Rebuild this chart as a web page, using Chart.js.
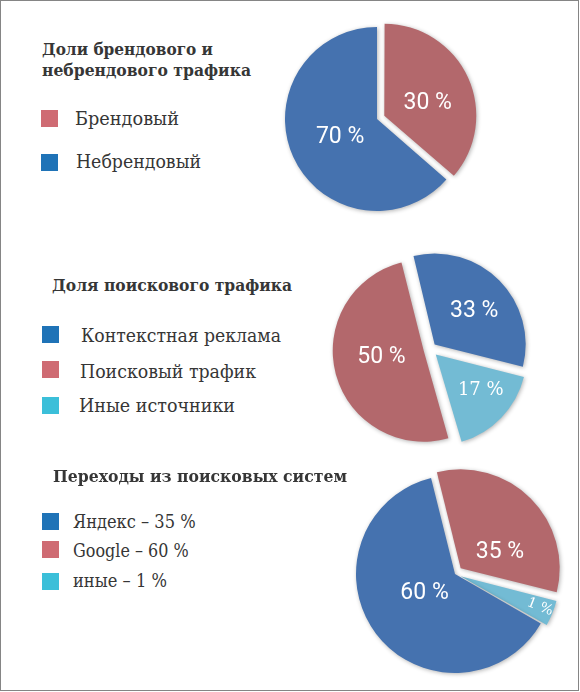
<!DOCTYPE html>
<html>
<head>
<meta charset="utf-8">
<script src="https://cdn.jsdelivr.net/npm/chart.js@4.4.1/dist/chart.umd.min.js"></script>
<style>
  html, body { margin:0; padding:0; width:580px; height:692px; overflow:hidden; background:#fff; }
  #frame { position:absolute; left:0; top:0; width:577px; height:689px; border:1px solid #858585; }
  .txt { position:absolute; white-space:nowrap; color:#363636; transform-origin:0 0; line-height:1.2; }
  .title { font-family:'Roboto Slab','DejaVu Serif',serif; font-weight:bold; font-size:17px; }
  .leg { font-family:'Roboto Slab','DejaVu Serif',serif; font-size:18px; }
  .bl { display:inline-block; width:0; height:0; vertical-align:baseline; }
  .sq { position:absolute; width:17px; height:17px; }
  canvas { position:absolute; }
</style>
</head>
<body>
<div id="frame"></div>
<canvas id="c1" width="220" height="220" style="left:267px;top:9px;width:220px;height:220px"></canvas>
<canvas id="c2" width="220" height="220" style="left:320px;top:239px;width:220px;height:220px"></canvas>
<canvas id="c3" width="240" height="240" style="left:335px;top:454px;width:240px;height:240px"></canvas>
<div id="texts"></div>
<script>
// ---------- data ----------
const chart1Title = ['Доли брендового и', 'небрендового трафика'];
const chart1Legend = ['Брендовый', 'Небрендовый'];
const chart1Shares = [36.4, 63.6];          // slice sizes as drawn
const chart1Labels = ['30 %', '70 %'];      // printed labels

const chart2Title = ['Доля поискового трафика'];
const chart2Legend = ['Контекстная реклама', 'Поисковый трафик', 'Иные источники'];
const chart2Shares = [32.7, 16.5, 50.8];
const chart2Labels = ['33 %', '17 %', '50 %'];

const chart3Title = ['Переходы из поисковых систем'];
const chart3Legend = ['Яндекс – 35 %', 'Google – 60 %', 'иные – 1 %'];
const chart3Shares = [32.8, 4.4, 62.8];
const chart3Labels = ['35 %', '1 %', '60 %'];

// ---------- styles ----------
const BLUE = '#4572AF', RED = '#B3686C', CYAN = '#73BBD4';
const LEG_BLUE = '#1F73B7', LEG_RED = '#CF6B73', LEG_CYAN = '#3BBFD9';

const textLayout = [
  {cls:'title', t:chart1Title[0], x:41.7, b:55, w:171},
  {cls:'title', t:chart1Title[1], x:41.7, b:76, w:209},
  {cls:'leg', t:chart1Legend[0], x:75, b:125, w:104},
  {cls:'leg', t:chart1Legend[1], x:76, b:168.3, w:125},
  {cls:'title', t:chart2Title[0], x:52.3, b:290.7, w:240},
  {cls:'leg', t:chart2Legend[0], x:80.7, b:341.7, w:200},
  {cls:'leg', t:chart2Legend[1], x:80, b:377.7, w:176},
  {cls:'leg', t:chart2Legend[2], x:79, b:412.3, w:156},
  {cls:'title', t:chart3Title[0], x:53.3, b:482.3, w:294},
  {cls:'leg', t:chart3Legend[0], x:73.3, b:527.7, w:122.7},
  {cls:'leg', t:chart3Legend[1], x:73.3, b:557.3, w:115.7},
  {cls:'leg', t:chart3Legend[2], x:73.3, b:587.3, w:94}
];
const squares = [
  {x:41, y:109.5, c:LEG_RED}, {x:41, y:153.5, c:LEG_BLUE},
  {x:42, y:326, c:LEG_BLUE}, {x:42, y:361, c:LEG_RED}, {x:42, y:397, c:LEG_CYAN},
  {x:42, y:512.5, c:LEG_BLUE}, {x:42, y:541, c:LEG_RED}, {x:42, y:572.5, c:LEG_CYAN}
];

const host = document.getElementById('texts');
squares.forEach(s => {
  const d = document.createElement('div');
  d.className = 'sq';
  d.style.left = s.x + 'px'; d.style.top = s.y + 'px'; d.style.background = s.c;
  host.appendChild(d);
});
textLayout.forEach(o => {
  const el = document.createElement('div');
  el.className = 'txt ' + o.cls;
  el.textContent = o.t;
  host.appendChild(el);
  el.style.left = o.x + 'px'; el.style.top = '0px';
  const m = document.createElement('span'); m.className = 'bl'; el.appendChild(m);
  const base = m.offsetTop;
  el.style.top = (o.b - base) + 'px';
  const aw = el.getBoundingClientRect().width;
  el.style.transform = 'scaleX(' + (o.w / aw) + ')';
});

// ---------- plugin ----------
const pieDecor = {
  id: 'pieDecor',
  beforeDatasetsDraw(chart, args, opts) {
    const meta = chart.getDatasetMeta(0);
    if (opts.fixRadius) {
      meta.data.forEach(arc => {
        const off = (arc.options.offset || 0) / 4;
        const circ = arc.endAngle - arc.startAngle;
        const fix = 1 - Math.sin(Math.min(Math.PI, circ));
        arc.outerRadius = opts.R - off * fix;
      });
    }
    const ctx = chart.ctx;
    ctx.save();
    ctx.shadowColor = 'rgba(0,0,0,0.30)';
    ctx.shadowBlur = 4;
    ctx.shadowOffsetX = 1;
    ctx.shadowOffsetY = 1;
  },
  afterDatasetsDraw(chart, args, opts) {
    const ctx = chart.ctx;
    ctx.restore();
    const meta = chart.getDatasetMeta(0);
    meta.data.forEach((arc, i) => {
      const off = (arc.options.offset || 0) / 4;
      const mid = (arc.startAngle + arc.endAngle) / 2;
      const cx = arc.x + Math.cos(mid) * off, cy = arc.y + Math.sin(mid) * off;
      const a = arc.startAngle + (arc.endAngle - arc.startAngle) * opts.t[i];
      const r = opts.R * opts.r[i];
      ctx.save();
      ctx.translate(cx + Math.cos(a) * r, cy + Math.sin(a) * r);
      if (opts.rot && opts.rot[i]) ctx.rotate(opts.rot[i] * Math.PI / 180);
      ctx.fillStyle = '#fff';
      ctx.font = opts.fonts[i];
      ctx.textAlign = 'center';
      ctx.textBaseline = 'middle';
      ctx.fillText(opts.text[i], 0, 0);
      ctx.restore();
    });
  }
};

const SANS = '23px Roboto, "Liberation Sans", Arial, sans-serif';
const SLAB = '18px "DejaVu Serif", serif';

function makePie(id, shares, colors, offsets, rotation, R, labelOpts) {
  return new Chart(document.getElementById(id), {
    type: 'pie',
    data: {
      labels: labelOpts.text,
      datasets: [{
        data: shares,
        backgroundColor: colors,
        borderWidth: 0,
        offset: offsets,
        hoverOffset: 0
      }]
    },
    options: {
      responsive: false,
      animation: false,
      rotation: rotation,
      radius: R,
      layout: { padding: 0 },
      events: [],
      plugins: {
        legend: { display: false },
        tooltip: { enabled: false },
        pieDecor: Object.assign({ R: R }, labelOpts)
      }
    },
    plugins: [pieDecor]
  });
}

makePie('c1', chart1Shares, [RED, BLUE], [32, 0], 0, 92, {
  text: chart1Labels, t: [0.566, 0.493], r: [0.49, 0.446],
  fonts: [SANS, SANS], fixRadius: true
});
makePie('c2', chart2Shares, [BLUE, CYAN, RED], [26, 32, 26], -13.5, 91, {
  text: chart2Labels, t: [0.54, 0.405, 0.535], r: [0.568, 0.63, 0.47],
  fonts: [SANS, SLAB, SANS], fixRadius: true
});
makePie('c3', chart3Shares, [RED, CYAN, BLUE], [32, 24, 0], -14, 99, {
  text: chart3Labels, t: [0.69, 0.45, 0.52], r: [0.43, 0.86, 0.365],
  fonts: [SANS, '14px "DejaVu Serif", serif', SANS], rot: [0, 21.5, 0], fixRadius: true
});
</script>
</body>
</html>
